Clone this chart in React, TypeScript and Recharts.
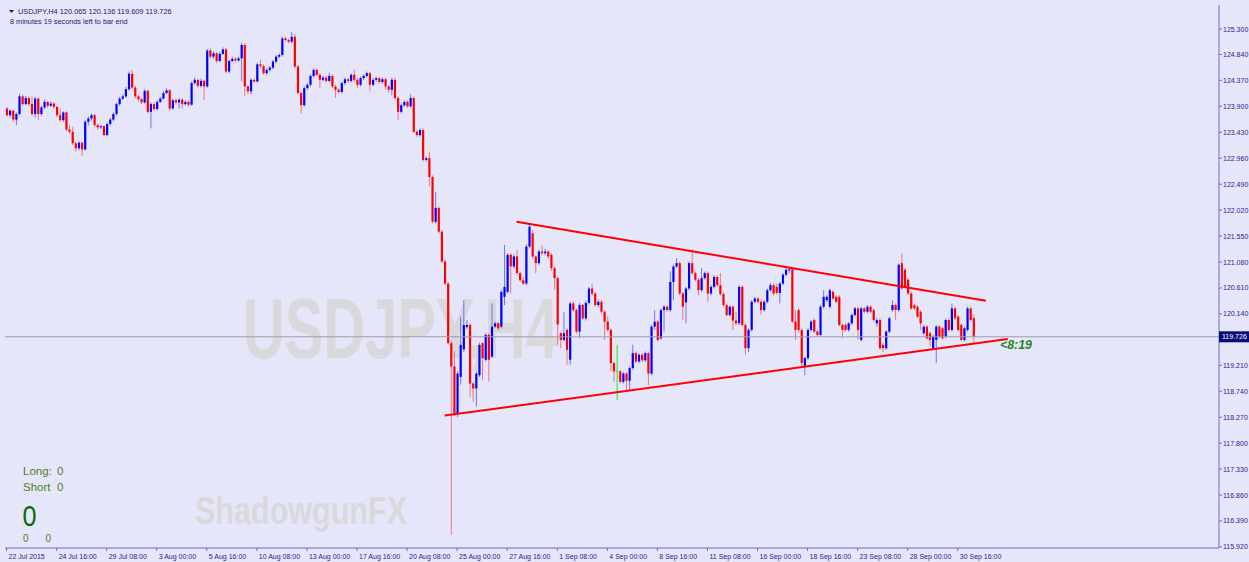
import React from 'react';
import { ComposedChart, Bar, XAxis, YAxis, ReferenceLine } from 'recharts';

// ---- data (4H bars, USDJPY) ----
const OPENS = [
  123.86,123.74,123.82,123.66,123.76,124.08,123.94,124.05,123.94,123.76,
  124.04,123.76,123.88,123.98,123.91,123.95,123.89,123.74,123.65,123.79,
  123.48,123.44,123.23,123.14,123.24,123.12,123.62,123.68,123.74,123.56,
  123.52,123.54,123.38,123.58,123.66,123.76,123.94,124.04,124.08,124.21,
  124.49,124.24,124.08,124.03,123.97,124.18,123.80,123.94,123.85,123.98,
  124.04,124.14,124.19,123.86,124.01,123.97,124.02,123.94,123.98,123.93,
  124.32,124.38,124.27,124.36,124.26,124.91,124.80,124.86,124.72,124.85,
  124.93,124.53,124.72,124.76,124.73,124.77,125.01,124.26,124.17,124.38,
  124.35,124.66,124.63,124.50,124.56,124.60,124.71,124.80,124.83,125.13,
  125.10,125.07,125.16,124.62,124.14,123.92,124.23,124.29,124.45,124.56,
  124.47,124.38,124.42,124.36,124.45,124.26,124.20,124.16,124.32,124.39,
  124.36,124.47,124.38,124.29,124.41,124.45,124.50,124.29,124.38,124.41,
  124.34,124.39,124.26,124.20,124.38,124.05,123.80,123.92,123.98,123.90,
  124.05,123.44,123.38,123.47,122.93,122.96,122.62,121.81,122.06,121.63,
  121.09,120.69,119.61,119.19,118.34,119.00,119.50,119.90,119.94,118.88,
  118.79,119.03,119.61,119.31,119.76,119.37,119.91,119.97,119.91,120.45,
  120.54,121.21,121.00,121.18,120.88,120.75,120.69,121.36,121.60,121.18,
  121.06,121.27,121.24,121.27,121.21,120.97,120.79,119.79,119.67,119.85,
  119.31,120.33,120.21,119.82,120.30,120.06,120.34,120.60,120.51,120.30,
  120.36,120.18,120.00,119.85,119.25,119.10,119.10,118.91,119.06,118.93,
  119.16,119.43,119.28,119.40,119.30,119.43,119.06,119.91,120.00,119.70,
  120.21,120.27,120.21,120.72,121.00,121.06,120.51,120.35,120.60,121.06,
  120.88,120.76,120.57,120.79,120.88,120.51,120.63,120.81,120.66,120.50,
  120.30,120.12,120.27,120.02,119.97,120.63,119.94,119.52,119.85,120.36,
  120.42,120.36,120.21,120.36,120.57,120.66,120.63,120.52,120.69,120.85,
  120.93,120.95,120.00,120.21,119.85,119.19,119.34,119.85,120.03,119.82,
  119.76,120.27,120.39,120.27,120.54,120.45,120.45,119.94,119.94,119.85,
  119.97,120.12,120.24,119.67,120.24,120.18,120.27,120.21,119.97,120.03,
  119.58,119.52,119.82,120.21,120.30,120.21,121.06,120.94,120.76,120.51,
  120.30,120.27,120.18,119.79,119.91,119.79,119.52,119.67,119.91,119.88,
  119.73,120.03,119.85,120.24,120.09,119.94,119.67,119.85,120.24,120.065,
];
const HIGHS = [
  123.89,123.85,123.84,123.79,124.13,124.11,124.09,124.08,124.08,124.07,
  124.06,123.91,124.02,124.00,123.99,123.97,123.91,123.86,123.81,123.81,
  123.56,123.53,123.26,123.27,123.26,123.65,123.72,123.77,123.76,123.59,
  123.57,123.56,123.61,123.69,123.79,123.97,124.07,124.12,124.25,124.53,
  124.56,124.27,124.11,124.06,124.21,124.20,123.97,123.97,124.01,124.07,
  124.18,124.23,124.21,124.04,124.04,124.05,124.05,124.01,124.02,124.35,
  124.42,124.40,124.40,124.38,124.94,124.95,124.90,124.88,124.88,124.97,
  124.96,124.75,124.80,124.79,124.80,125.05,125.04,124.28,124.41,124.40,
  124.69,124.74,124.66,124.59,124.63,124.74,124.83,124.86,125.16,125.16,
  125.13,125.25,125.21,124.65,124.17,124.26,124.32,124.48,124.59,124.59,
  124.50,124.45,124.45,124.51,124.48,124.29,124.23,124.35,124.42,124.42,
  124.50,124.56,124.41,124.44,124.48,124.53,124.53,124.41,124.44,124.44,
  124.42,124.42,124.29,124.42,124.41,124.08,123.95,124.01,124.01,124.12,
  124.07,123.47,123.50,123.50,122.99,123.08,122.65,122.35,122.08,121.66,
  121.12,120.72,119.66,119.46,119.10,120.09,120.39,120.03,119.97,118.91,
  119.10,119.62,119.64,119.80,119.79,120.33,120.00,120.00,120.57,121.39,
  121.24,121.24,121.22,121.30,120.91,120.80,121.40,121.76,121.66,121.20,
  121.30,121.39,121.32,121.30,121.24,121.00,120.82,119.82,120.18,119.88,
  120.36,120.37,120.24,120.34,120.32,120.38,120.63,120.69,120.54,120.40,
  120.39,120.21,120.09,119.88,119.28,119.58,119.13,119.09,119.09,119.19,
  119.58,119.46,119.43,119.43,119.46,119.46,119.94,120.21,120.03,120.24,
  120.30,120.30,120.91,121.03,121.15,121.09,120.54,120.63,121.09,121.31,
  120.91,120.79,120.97,120.91,120.91,120.66,120.84,120.84,120.88,120.54,
  120.33,120.30,120.30,120.18,120.66,120.66,119.97,119.88,120.39,120.45,
  120.45,120.40,120.39,120.60,120.70,120.69,120.69,120.72,120.88,120.97,
  120.98,120.97,120.21,120.24,119.88,119.36,119.88,120.03,120.06,119.85,
  120.30,120.57,120.48,120.60,120.57,120.48,120.48,119.96,119.97,119.99,
  120.15,120.27,120.27,120.27,120.27,120.30,120.30,120.24,120.06,120.06,
  119.61,119.84,120.09,120.39,120.33,121.05,121.24,120.97,120.79,120.54,
  120.33,120.30,120.21,119.94,119.94,119.82,119.76,119.94,119.94,119.91,
  120.06,120.06,120.33,120.27,120.12,119.97,119.91,120.27,120.27,120.136,
];
const LOWS = [
  123.71,123.70,123.62,123.56,123.74,123.91,123.92,123.90,123.72,123.70,
  123.66,123.73,123.85,123.87,123.89,123.86,123.70,123.62,123.62,123.45,
  123.40,123.20,123.08,123.10,123.00,123.10,123.55,123.64,123.53,123.48,
  123.49,123.36,123.36,123.55,123.63,123.73,123.91,124.01,124.05,124.18,
  124.21,124.04,123.99,123.94,123.95,123.77,123.50,123.82,123.83,123.96,
  124.02,124.12,123.82,123.84,123.93,123.86,123.86,123.91,123.89,123.91,
  124.29,124.24,124.24,124.01,124.24,124.77,124.76,124.68,124.70,124.83,
  124.50,124.50,124.70,124.69,124.71,124.35,124.08,124.12,124.12,124.32,
  124.33,124.59,124.47,124.47,124.53,124.57,124.68,124.77,124.80,125.07,
  125.04,125.04,124.59,124.11,123.77,123.89,124.20,124.26,124.42,124.44,
  124.23,124.35,124.33,124.33,124.23,124.05,124.13,124.13,124.29,124.33,
  124.33,124.35,124.23,124.26,124.38,124.42,124.17,124.26,124.35,124.31,
  124.31,124.20,124.15,124.10,124.02,123.65,123.77,123.89,123.87,123.87,
  123.41,123.35,123.35,122.90,122.90,122.45,121.78,121.78,121.60,121.06,
  120.66,119.58,116.14,118.30,118.27,118.86,119.45,119.87,118.64,118.55,
  118.46,119.00,118.94,119.28,118.91,119.34,119.88,119.84,119.88,120.30,
  120.51,120.51,120.96,120.84,120.72,120.66,120.66,121.33,121.14,120.88,
  121.03,121.20,121.20,121.14,120.92,120.58,119.58,119.52,119.64,119.22,
  119.22,120.18,119.78,119.70,120.03,120.02,120.31,120.47,120.27,120.26,
  120.15,119.67,119.82,119.10,118.91,118.58,118.88,118.88,118.76,118.76,
  119.13,119.25,119.25,119.27,119.27,118.85,119.03,119.85,119.64,119.67,
  119.82,120.18,120.18,120.39,120.97,120.48,120.03,119.97,120.57,120.85,
  120.73,120.48,120.54,120.76,120.36,120.48,120.60,120.63,120.47,120.27,
  120.09,120.09,119.85,119.94,119.94,119.91,119.40,119.45,119.82,120.33,
  120.33,120.12,120.18,120.33,120.54,120.48,120.49,120.33,120.66,120.82,
  120.88,119.97,119.67,119.80,119.19,119.03,119.30,119.82,119.79,119.73,
  119.73,120.24,120.36,120.24,120.39,120.33,119.91,119.70,119.82,119.82,
  119.94,120.09,119.67,119.64,120.15,120.15,120.15,120.00,119.91,119.49,
  119.45,119.49,119.79,120.18,120.03,120.18,120.58,120.60,120.48,120.21,
  120.21,120.06,119.85,119.76,119.67,119.55,119.49,119.25,119.70,119.67,
  119.70,119.82,119.82,120.03,119.82,119.64,119.64,119.82,120.00,119.609,
];
const CLOSES = [
  123.74,123.82,123.66,123.76,124.08,123.94,124.05,123.94,123.76,124.04,
  123.76,123.88,123.98,123.91,123.95,123.89,123.74,123.65,123.79,123.48,
  123.44,123.23,123.14,123.24,123.12,123.62,123.68,123.74,123.56,123.52,
  123.54,123.38,123.58,123.66,123.76,123.94,124.04,124.08,124.21,124.49,
  124.24,124.08,124.03,123.97,124.18,123.80,123.94,123.85,123.98,124.04,
  124.14,124.19,123.86,124.01,123.97,124.02,123.94,123.98,123.93,124.32,
  124.38,124.27,124.36,124.26,124.91,124.80,124.86,124.72,124.85,124.93,
  124.53,124.72,124.76,124.73,124.77,125.01,124.26,124.17,124.38,124.35,
  124.66,124.63,124.50,124.56,124.60,124.71,124.80,124.83,125.13,125.10,
  125.07,125.16,124.62,124.14,123.92,124.23,124.29,124.45,124.56,124.47,
  124.38,124.42,124.36,124.45,124.26,124.20,124.16,124.32,124.39,124.36,
  124.47,124.38,124.29,124.41,124.45,124.50,124.29,124.38,124.41,124.34,
  124.39,124.26,124.20,124.38,124.05,123.80,123.92,123.98,123.90,124.05,
  123.44,123.38,123.47,122.93,122.96,122.62,121.81,122.06,121.63,121.09,
  120.69,119.61,119.19,118.34,119.06,119.58,119.94,119.94,118.88,118.79,
  119.06,119.58,119.34,119.76,119.31,119.91,119.97,119.88,120.54,120.63,
  121.21,121.00,121.18,120.88,120.75,120.69,121.36,121.72,121.18,121.06,
  121.27,121.24,121.27,121.18,120.97,120.79,119.95,119.67,119.79,119.49,
  120.33,120.21,119.82,120.30,120.06,120.34,120.60,120.51,120.30,120.36,
  120.18,120.00,119.85,119.25,119.10,119.10,118.91,119.06,118.93,119.16,
  119.43,119.28,119.40,119.30,119.43,119.06,119.91,120.00,119.67,120.21,
  120.27,120.21,120.72,121.00,121.06,120.51,120.27,120.60,121.06,120.88,
  120.76,120.57,120.79,120.88,120.51,120.63,120.81,120.66,120.50,120.30,
  120.12,120.27,120.02,119.97,120.63,119.94,119.52,119.85,120.36,120.42,
  120.36,120.21,120.36,120.57,120.66,120.51,120.52,120.69,120.85,120.94,
  120.95,120.00,119.85,119.85,119.25,119.34,119.85,120.00,119.82,119.76,
  120.27,120.45,120.45,120.57,120.42,120.36,119.94,119.85,119.85,119.97,
  120.12,120.24,119.85,120.24,120.18,120.27,120.18,120.03,120.03,119.52,
  119.52,119.82,120.06,120.30,120.21,121.03,120.60,120.63,120.51,120.24,
  120.24,120.09,119.97,119.91,119.70,119.67,119.73,119.91,119.73,119.70,
  120.03,119.85,120.24,120.06,119.85,119.67,119.88,120.24,120.03,119.726,
];

// empty slots kept at the right of the last bar (chart shift)
const EMPTY_SLOTS = 78;

const X_LABELS = [
  '22 Jul 2015', '24 Jul 16:00', '29 Jul 08:00', '3 Aug 00:00', '5 Aug 16:00',
  '10 Aug 08:00', '13 Aug 00:00', '17 Aug 16:00', '20 Aug 08:00', '25 Aug 00:00',
  '27 Aug 16:00', '1 Sep 08:00', '4 Sep 00:00', '8 Sep 16:00', '11 Sep 08:00',
  '16 Sep 00:00', '18 Sep 16:00', '23 Sep 08:00', '28 Sep 00:00', '30 Sep 16:00',
];
const X_LABEL_STEP = 16;

const Y_TICKS = [
  125.3, 124.84, 124.37, 123.9, 123.43, 122.96, 122.49, 122.02, 121.55, 121.08,
  120.61, 120.14, 119.21, 118.74, 118.27, 117.8, 117.33, 116.86, 116.39, 115.92,
];
const Y_DOMAIN = [115.901, 125.735];
const LAST_PRICE = 119.726;

const UPPER_LINE = [{ x: 163, y: 121.81 }, { x: 313, y: 120.38 }];
const LOWER_LINE = [{ x: 140, y: 118.3 }, { x: 320, y: 119.686 }];

// ---- styles ----
const BG = '#e6e6fa';
const FRAME = '#6a6acb';
const AXIS_TEXT = '#25258f';
const FONT = 'Liberation Sans, Arial, sans-serif';

const data = Array.from({ length: OPENS.length + EMPTY_SLOTS }, (_, i) =>
  i < OPENS.length
    ? { idx: i, o: OPENS[i], h: HIGHS[i], l: LOWS[i], c: CLOSES[i], range: [LOWS[i], HIGHS[i]] }
    : { idx: i }
);

function Candle(props: any) {
  const { x, y, width, height, payload } = props;
  if (!payload || payload.o == null || x == null || isNaN(y)) return null;
  const { o, h, l, c } = payload;
  const top = Math.min(y, y + height);
  const bot = Math.max(y, y + height);
  const span = h - l;
  const k = span > 0 ? (bot - top) / span : 0;
  const cx = x + width / 2;
  const yOf = (p: number) => top + (h - p) * k;
  const doji = o === c;
  const color = doji ? '#00ee00' : c > o ? '#0000ff' : '#ff0000';
  const bt = yOf(Math.max(o, c));
  const bb = yOf(Math.min(o, c));
  return (
    <g>
      <line x1={cx} x2={cx} y1={top} y2={bot} stroke={color} strokeOpacity={doji ? 0.9 : 0.5} strokeWidth={1} />
      {doji ? (
        <line x1={cx - 1} x2={cx + 1} y1={bt} y2={bt} stroke={color} />
      ) : (
        <rect x={cx - 1.1} y={bt} width={2.2} height={Math.max(1, bb - bt)} fill={color} />
      )}
    </g>
  );
}

function XTick(props: any) {
  const { x, y, payload } = props;
  const v = Number(payload.value);
  if (v % X_LABEL_STEP !== 0) return <g />;
  const label = X_LABELS[v / X_LABEL_STEP];
  if (!label) return <g />;
  return (
    <g>
      <line x1={x} x2={x} y1={y} y2={y + 3} stroke={FRAME} />
      <text x={x + 2} y={y + 11} fontSize={7} fontFamily={FONT} fill={AXIS_TEXT}>{label}</text>
    </g>
  );
}

function YTick(props: any) {
  const { x, y, payload } = props;
  const v = Number(payload.value);
  if (v === LAST_PRICE) {
    return (
      <g>
        <rect x={x} y={y - 5.5} width={30} height={11} fill="#0a0a78" />
        <text x={x + 3} y={y + 2.5} fontSize={7} fontFamily={FONT} fill="#ffffff">{v.toFixed(3)}</text>
      </g>
    );
  }
  return (
    <g>
      <line x1={x} x2={x + 3} y1={y} y2={y} stroke={FRAME} />
      <text x={x + 4} y={y + 2.5} fontSize={7} fontFamily={FONT} fill={AXIS_TEXT}>{v.toFixed(3)}</text>
    </g>
  );
}

export default function App() {
  const W = 1249;
  const H = 562;
  return (
    <div style={{ position: 'absolute', left: 0, top: 0, width: W, height: H, background: BG, overflow: 'hidden' }}>
      <svg width={W} height={H} style={{ position: 'absolute', left: 0, top: 0 }}>
        <text x={243} y={358} fontFamily={FONT} fontWeight="bold" fontSize={85} fill="#d9d9dc"
          textLength={315} lengthAdjust="spacingAndGlyphs">USDJPY,H4</text>
        <text x={195} y={524} fontFamily={FONT} fontWeight="bold" fontSize={38} fill="#d9d9dc"
          textLength={212} lengthAdjust="spacingAndGlyphs">ShadowgunFX</text>
      </svg>
      <div style={{ position: 'absolute', left: 0, top: 0 }}>
        <ComposedChart width={W} height={H} data={data} margin={{ top: 5, right: 0, bottom: 0, left: 5 }}>
          <XAxis dataKey="idx" type="category" interval={0} height={14} tickLine={false} tickSize={0}
            tickMargin={0} axisLine={{ stroke: FRAME }} tick={<XTick />} />
          <XAxis xAxisId="top" dataKey="idx" orientation="top" height={0} tick={false} tickLine={false}
            axisLine={{ stroke: FRAME }} />
          <YAxis orientation="right" type="number" domain={Y_DOMAIN} allowDataOverflow
            ticks={[...Y_TICKS, LAST_PRICE]} interval={0} width={30} tickLine={false} tickSize={0}
            tickMargin={0} axisLine={{ stroke: FRAME }} tick={<YTick />} />
          <YAxis yAxisId="left" orientation="left" width={0} tick={false} tickLine={false}
            axisLine={{ stroke: FRAME }} />
          <ReferenceLine y={LAST_PRICE} stroke="#9d9daa" strokeWidth={1} />
          <Bar dataKey="range" barSize={2} isAnimationActive={false} shape={(p: any) => <Candle {...p} />} />
          <ReferenceLine segment={UPPER_LINE} stroke="#ff0000" strokeWidth={2} ifOverflow="visible" />
          <ReferenceLine segment={LOWER_LINE} stroke="#ff0000" strokeWidth={2} ifOverflow="visible" />
        </ComposedChart>
      </div>
      <svg width={W} height={H} style={{ position: 'absolute', left: 0, top: 0, pointerEvents: 'none' }}>
        <polygon points="9,10 14,10 11.5,13" fill="#1a1a70" />
        <text x={18} y={14} fontSize={7.4} fontFamily={FONT} fill="#1a1a70">USDJPY,H4  120.065 120.136 119.609 119.726</text>
        <text x={10} y={24} fontSize={7.3} fontFamily={FONT} fill="#1a1a70">8 minutes 19 seconds left to bar end</text>
        <text x={23} y={475} fontSize={11.5} fontFamily={FONT} fill="#4f7f14">Long:</text>
        <text x={57} y={475} fontSize={11.5} fontFamily={FONT} fill="#4f7f14">0</text>
        <text x={23} y={491} fontSize={11.5} fontFamily={FONT} fill="#4f7f14">Short</text>
        <text x={57} y={491} fontSize={11.5} fontFamily={FONT} fill="#4f7f14">0</text>
        <text x={22.5} y={525.5} fontSize={30} fontFamily={FONT} fill="#0b6b0b"
          textLength={14} lengthAdjust="spacingAndGlyphs">0</text>
        <text x={23} y={541.5} fontSize={10} fontFamily={FONT} fill="#4f7f14">0</text>
        <text x={45.5} y={541.5} fontSize={10} fontFamily={FONT} fill="#4f7f14">0</text>
        <text x={1000} y={349} fontSize={12} fontFamily={FONT} fontWeight="bold" fontStyle="italic"
          fill="#228b22" textLength={32} lengthAdjust="spacingAndGlyphs">{'<8:19'}</text>
      </svg>
    </div>
  );
}
